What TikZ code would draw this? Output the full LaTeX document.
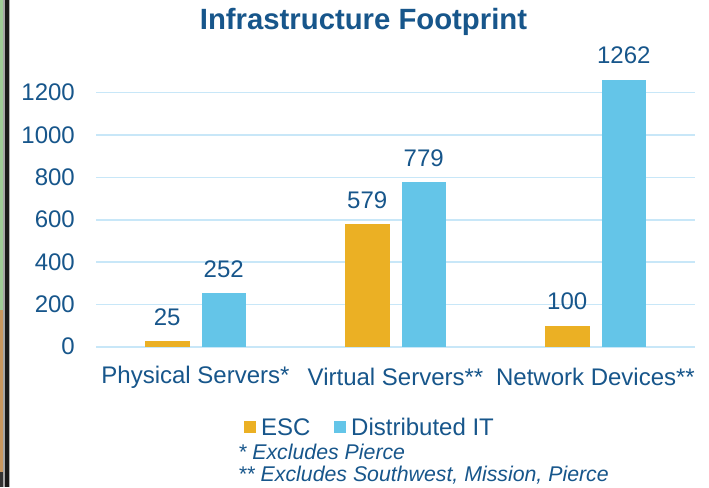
\documentclass[tikz,border=0pt]{standalone}
\usepackage{fontspec}
\setmainfont{Liberation Sans}
\definecolor{txtblue}{HTML}{17568B}
\definecolor{escgold}{HTML}{EBB024}
\definecolor{distblue}{HTML}{64C5E8}
\definecolor{gridblue}{HTML}{C8E7F8}
\definecolor{stripgreen}{HTML}{9ECB96}
\definecolor{striptan}{HTML}{C8975F}
\tikzset{
  lbl/.style={text=txtblue, font=\fontsize{24}{28}\selectfont, inner sep=0pt},
  note/.style={text=txtblue, font=\fontsize{21.3}{25}\selectfont\itshape, inner sep=0pt, anchor=west},
  grid line/.style={draw=gridblue, line width=1.6pt},
  escbar/.style={fill=escgold, draw=none},
  distbar/.style={fill=distblue, draw=none},
  keybox/.style={minimum size=12pt, inner sep=0pt, draw=none}
}
\begin{document}
\begin{tikzpicture}[x=1pt, y=-1pt]
\useasboundingbox (0,0) rectangle (709,487);
\fill[white] (0,0) rectangle (709,487);

% frame strip on the left edge
\fill[stripgreen] (0,0) rectangle (3,310);
\fill[striptan] (0,310) rectangle (3,472);
\fill[black!80] (0,472) rectangle (3,487);
\fill[gray!70] (3,0) rectangle (5,487);
\fill[black!90] (5,0) rectangle (9,487);
\fill[gray!60] (9,0) rectangle (10,487);

% title
\node[text=txtblue, font=\fontsize{29.3}{34}\selectfont\bfseries, inner sep=0pt] (title) at (363.5,22) {Infrastructure Footprint};

% value axis: 0 at y=346.7, 0.21167 px per unit
\foreach \v in {0,200,...,1200} {
  \draw[grid line] (96,{346.7-0.21167*\v}) -- (695,{346.7-0.21167*\v});
  \node[lbl, anchor=east] (tick\v) at (75,{346.7-0.21167*\v}) {\v};
}

% bars with their value labels
\foreach \c/\e/\d/\name in {195.5/25/252/phys, 395.5/579/779/virt, 595.5/100/1262/net} {
  \fill[escbar] (\c-50.5,346.7) rectangle (\c-6,{346.7-0.21167*\e});
  \fill[distbar] (\c+6,346.7) rectangle (\c+50.5,{346.7-0.21167*\d});
  \node[lbl] (esc-\name) at (\c-28.25,{346.7-0.21167*\e-24}) {\e};
  \node[lbl] (dist-\name) at (\c+28.25,{346.7-0.21167*\d-24}) {\d};
}

% category labels
\node[lbl] (cat-phys) at (195.5,377) {Physical Servers*};
\node[lbl] (cat-virt) at (395.5,377) {Virtual Servers**};
\node[lbl] (cat-net) at (595.5,377) {Network Devices**};

% legend
\node[keybox, fill=escgold] (key-esc) at (250.3,427) {};
\node[lbl, anchor=west] (key-esc-text) at (261,427) {ESC};
\node[keybox, fill=distblue] (key-dist) at (339.8,427) {};
\node[lbl, anchor=west] (key-dist-text) at (351,427) {Distributed IT};

% footnotes
\node[note] (note1) at (238,452) {* Excludes Pierce};
\node[note] (note2) at (238,475) {** Excludes Southwest, Mission, Pierce};
\end{tikzpicture}
\end{document}
